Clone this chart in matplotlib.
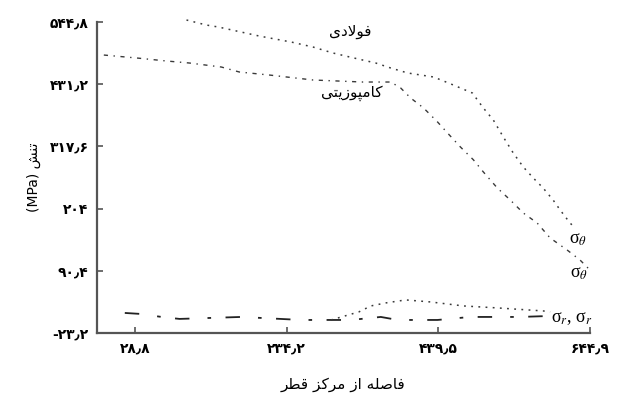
"""Radial and hoop stress along the radius, steel vs composite."""

import matplotlib

matplotlib.use("Agg")
import matplotlib.pyplot as plt

# hoop stress (sigma_theta)
steel_theta_x = [98.8, 125.8, 142.0, 197.3, 240.4, 270.1, 297.1, 325.4, 355.0,
                 375.3, 398.2, 433.2, 453.5, 469.6, 485.8, 492.6, 500.6, 514.1,
                 527.6, 541.1, 554.6, 568.1, 581.5, 595.0, 604.5, 617.9, 624.7]
steel_theta_y = [548.5, 539.3, 535.7, 519.2, 508.3, 499.1, 488.2, 479.1, 469.9,
                 460.8, 451.7, 444.4, 433.4, 424.3, 415.1, 402.4, 387.8, 365.8,
                 334.8, 305.5, 280.1, 260.0, 241.6, 219.7, 201.5, 177.7, 168.6]

comp_theta_x = [-13.1, 31.4, 71.9, 102.9, 146.0, 170.3, 210.8, 270.1, 337.5,
                375.3, 388.7, 402.2, 419.7, 438.6, 452.1, 469.6, 487.2, 500.6,
                519.5, 537.0, 554.6, 573.4, 591.0, 613.9, 631.4, 644.9]
comp_theta_y = [484.5, 479.1, 473.6, 469.9, 462.6, 453.5, 448.0, 438.9, 435.2,
                435.2, 424.3, 406.0, 387.8, 362.2, 342.1, 316.5, 293.0, 270.9,
                241.6, 219.7, 196.0, 177.7, 150.3, 128.4, 110.1, 91.8]

# radial stress (sigma_r)
comp_r_x = [15.3, 36.8, 65.1, 89.4, 173.0, 253.9, 321.3, 361.8, 384.7, 438.6,
            483.0, 550.0, 591.0]
comp_r_y = [13.3, 11.5, 6.0, 2.4, 6.0, 0.5, 0.5, 6.0, 0.5, 0.5, 6.0, 6.0, 7.8]

steel_r_x = [294.4, 332.1, 348.3, 368.5, 395.5, 429.2, 473.7, 519.5, 581.5, 591.0]
steel_r_y = [0.5, 15.2, 26.1, 31.6, 37.1, 33.4, 26.1, 22.5, 17.0, 15.2]

x_ticks = [28.8, 234.2, 439.5, 644.9]
x_tick_labels = ["۲۸٫۸", "۲۳۴٫۲", "۴۳۹٫۵", "۶۴۴٫۹"]
y_ticks = [-23.2, 90.4, 204.0, 317.6, 431.2, 544.8]
y_tick_labels = ["-۲۳٫۲", "۹۰٫۴", "۲۰۴", "۳۱۷٫۶", "۴۳۱٫۲", "۵۴۴٫۸"]

# Arabic presentation forms: isolated, final, initial, medial
FORMS = {
    "ا": ("\uFE8D", "\uFE8E", None, None),
    "د": ("\uFEA9", "\uFEAA", None, None),
    "ر": ("\uFEAD", "\uFEAE", None, None),
    "ز": ("\uFEAF", "\uFEB0", None, None),
    "و": ("\uFEED", "\uFEEE", None, None),
    "ت": ("\uFE95", "\uFE96", "\uFE97", "\uFE98"),
    "ن": ("\uFEE5", "\uFEE6", "\uFEE7", "\uFEE8"),
    "ش": ("\uFEB5", "\uFEB6", "\uFEB7", "\uFEB8"),
    "ص": ("\uFEB9", "\uFEBA", "\uFEBB", "\uFEBC"),
    "ط": ("\uFEC1", "\uFEC2", "\uFEC3", "\uFEC4"),
    "ف": ("\uFED1", "\uFED2", "\uFED3", "\uFED4"),
    "ق": ("\uFED5", "\uFED6", "\uFED7", "\uFED8"),
    "ل": ("\uFEDD", "\uFEDE", "\uFEDF", "\uFEE0"),
    "م": ("\uFEE1", "\uFEE2", "\uFEE3", "\uFEE4"),
    "ه": ("\uFEE9", "\uFEEA", "\uFEEB", "\uFEEC"),
    "ک": ("\uFB8E", "\uFB8F", "\uFB90", "\uFB91"),
    "پ": ("\uFB56", "\uFB57", "\uFB58", "\uFB59"),
    "ی": ("\uFBFC", "\uFBFD", "\uFBFE", "\uFBFF"),
}


def joins_forward(ch):
    return ch in FORMS and FORMS[ch][2] is not None


def rtl(text):
    """Shape Persian text and return it in visual (left-to-right) order."""
    out = []
    i = 0
    while i < len(text):
        ch = text[i]
        prev = text[i - 1] if i > 0 else ""
        after_join = joins_forward(prev)
        if ch == "ل" and i + 1 < len(text) and text[i + 1] == "ا":
            out.append("\uFEFC" if after_join else "\uFEFB")
            i += 2
            continue
        if ch not in FORMS:
            out.append(ch)
            i += 1
            continue
        nxt = text[i + 1] if i + 1 < len(text) else ""
        before_join = joins_forward(ch) and nxt in FORMS
        iso, fin, ini, med = FORMS[ch]
        if after_join and before_join:
            out.append(med)
        elif after_join:
            out.append(fin)
        elif before_join:
            out.append(ini)
        else:
            out.append(iso)
        i += 1
    return "".join(out)[::-1]


plt.rcParams["font.family"] = ["DejaVu Sans"]
plt.rcParams["mathtext.fontset"] = "stix"

fig = plt.figure(figsize=(6.21, 4.08), dpi=100)
ax = fig.add_axes([0.156, 0.184, 0.794, 0.762])

line_color = "#3a3a3a"
ax.plot(steel_theta_x, steel_theta_y, color=line_color, lw=1.1,
        linestyle=(0, (1.2, 3.5)), clip_on=False)
ax.plot(comp_theta_x, comp_theta_y, color=line_color, lw=1.0,
        linestyle=(0, (3, 4, 1, 4)))
ax.plot(comp_r_x, comp_r_y, color="#222222", lw=1.3,
        linestyle=(0, (8, 10, 2, 8)))
ax.plot(steel_r_x, steel_r_y, color=line_color, lw=1.1,
        linestyle=(0, (1.2, 3.5)))

ax.set_xlim(-22.5, 644.9)
ax.set_ylim(-23.2, 544.8)
ax.set_xticks(x_ticks)
ax.set_xticklabels(x_tick_labels, fontsize=10, fontweight="bold")
ax.set_yticks(y_ticks)
ax.set_yticklabels(y_tick_labels, fontsize=10, fontweight="bold")
ax.tick_params(direction="in", length=4, width=1.2, color="#555555", pad=6)

for side in ("top", "right"):
    ax.spines[side].set_visible(False)
for side in ("left", "bottom"):
    ax.spines[side].set_linewidth(1.6)
    ax.spines[side].set_color("#555555")

ax.set_xlabel(rtl("فاصله از مرکز قطر"), fontsize=11, labelpad=16)
ax.set_ylabel("(MPa) " + rtl("تنش"), fontsize=10, labelpad=6)

ax.text(320, 527, rtl("فولادی"), fontsize=11, ha="center", va="center")
ax.text(322, 414, rtl("کامپوزیتی"), fontsize=11, ha="center", va="center")

sigma_font = ["Liberation Serif", "DejaVu Sans"]
ax.text(616, 147, "σ$_\\theta$", fontsize=13, family=sigma_font,
        ha="left", va="center", clip_on=False)
ax.text(618, 86, "σ$_\\theta$", fontsize=13, family=sigma_font,
        ha="left", va="center", clip_on=False)
ax.text(592, 4, "σ$_r$, σ$_r$", fontsize=13, family=sigma_font,
        ha="left", va="center", clip_on=False)

fig.savefig("out.png", dpi=100)
